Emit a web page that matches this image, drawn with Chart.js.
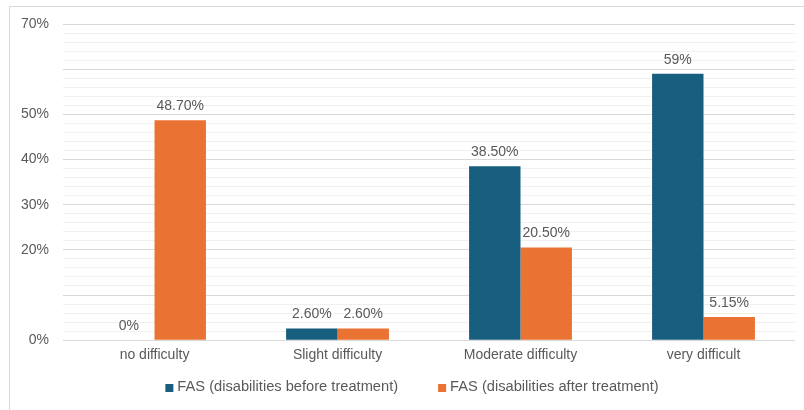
<!DOCTYPE html>
<html>
<head>
<meta charset="utf-8">
<script src="https://cdn.jsdelivr.net/npm/chart.js@4/dist/chart.umd.min.js"></script>
<style>
  html, body { margin: 0; padding: 0; background: #ffffff; }
  #wrap { position: relative; width: 804px; height: 410px; overflow: hidden; }
  #frame { position: absolute; left: 9px; top: 6px; width: 820px; height: 430px; border: 1px solid #d9d9d9; box-sizing: border-box; }
  #chart { position: absolute; left: 0; top: 0; }
</style>
</head>
<body>
<div id="wrap">
  <div id="frame"></div>
  <canvas id="chart" width="804" height="410"></canvas>
</div>
<script>
// Difficulty levels on the x axis
const categories = ['no difficulty', 'Slight difficulty', 'Moderate difficulty', 'very difficult'];

// FAS scores (percent of patients)
const beforeValues = [0, 2.6, 38.5, 59];
const afterValues = [48.7, 2.6, 20.5, 5.15];

// Decimal places used when printing each value above its bar
const beforeDecimals = [0, 2, 2, 0];
const afterDecimals = [2, 2, 2, 2];

// Y axis: labelled ticks (the rest of the 2% grid steps stay unlabelled)
const yLabelledTicks = [0, 20, 30, 40, 50, 70];
const yMax = 70;
const yStep = 2;

const seriesNames = ['FAS (disabilities before treatment)', 'FAS (disabilities after treatment)'];
const seriesColors = ['#175E7F', '#EA7233'];
const decimalsBySeries = [beforeDecimals, afterDecimals];

const textColor = '#595959';
const fontFamily = '"Liberation Sans", Arial, sans-serif';

// Prints each bar's value above it
const valueLabels = {
  id: 'valueLabels',
  afterDatasetsDraw(chart) {
    const ctx = chart.ctx;
    ctx.save();
    ctx.font = '14px ' + fontFamily;
    ctx.fillStyle = textColor;
    ctx.textAlign = 'center';
    ctx.textBaseline = 'bottom';
    chart.data.datasets.forEach((ds, di) => {
      const meta = chart.getDatasetMeta(di);
      meta.data.forEach((bar, i) => {
        const v = ds.data[i];
        const txt = v.toFixed(decimalsBySeries[di][i]) + '%';
        ctx.fillText(txt, bar.x, bar.y - 7);
      });
    });
    ctx.restore();
  }
};

// Bottom legend: small square swatch + series name, items spaced widely
const bottomLegend = {
  id: 'bottomLegend',
  afterDraw(chart) {
    const ctx = chart.ctx;
    ctx.save();
    ctx.font = '14.67px ' + fontFamily;
    ctx.textBaseline = 'middle';
    ctx.textAlign = 'left';
    const box = 8, gap = 4, itemGap = 40;
    const widths = chart.data.datasets.map(ds => ctx.measureText(ds.label).width);
    const total = widths.reduce((s, w) => s + box + gap + w, 0) + itemGap * (widths.length - 1);
    let x = 412 - total / 2;
    const cy = 387;
    chart.data.datasets.forEach((ds, i) => {
      ctx.fillStyle = ds.backgroundColor;
      ctx.fillRect(x, cy - 3, box, box);
      x += box + gap;
      ctx.fillStyle = textColor;
      ctx.fillText(ds.label, x, cy);
      x += widths[i] + itemGap;
    });
    ctx.restore();
  }
};

new Chart(document.getElementById('chart'), {
  type: 'bar',
  data: {
    labels: categories,
    datasets: [
      { label: seriesNames[0], data: beforeValues, backgroundColor: seriesColors[0], borderWidth: 0 },
      { label: seriesNames[1], data: afterValues, backgroundColor: seriesColors[1], borderWidth: 0 }
    ]
  },
  options: {
    responsive: false,
    animation: false,
    layout: { padding: { left: 7, right: 9, top: 24, bottom: 39 } },
    datasets: {
      bar: { categoryPercentage: 0.562, barPercentage: 1.0 }
    },
    scales: {
      x: {
        grid: { display: false, drawTicks: false },
        border: { display: false },
        ticks: { color: textColor, font: { family: fontFamily, size: 14 }, padding: 7 }
      },
      y: {
        min: 0,
        max: yMax,
        border: { display: false },
        grid: {
          drawTicks: false,
          color: (c) => (c.tick && c.tick.value % 10 === 0) ? '#d9d9d9' : '#f0f0f0',
          lineWidth: 1
        },
        ticks: {
          stepSize: yStep,
          autoSkip: false,
          padding: 14,
          color: textColor,
          font: { family: fontFamily, size: 14 },
          callback: (v) => yLabelledTicks.includes(v) ? v + '%' : ''
        }
      }
    },
    plugins: {
      legend: { display: false },
      tooltip: { enabled: false }
    }
  },
  plugins: [valueLabels, bottomLegend]
});
</script>
</body>
</html>
